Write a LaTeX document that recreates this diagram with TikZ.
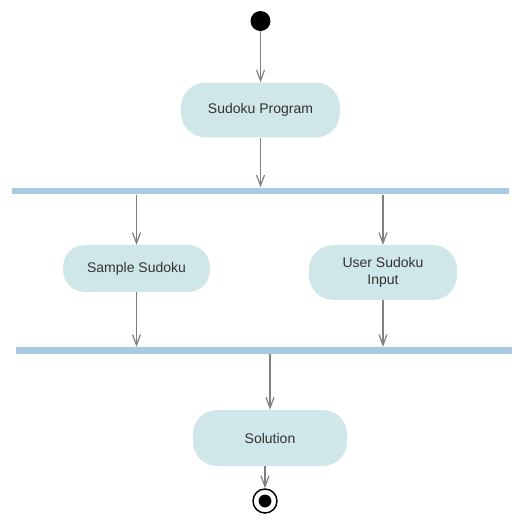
\documentclass[tikz,border=0pt]{standalone}
\usepackage{fontspec}
\setmainfont{Liberation Sans}
\usetikzlibrary{arrows.meta}
\definecolor{actfill}{RGB}{208,231,234}
\definecolor{barblue}{RGB}{169,202,227}
\definecolor{flowgray}{RGB}{128,128,128}
\definecolor{txtgray}{RGB}{51,51,51}
\tikzset{
  action/.style={rectangle, rounded corners=18pt, fill=actfill, text=txtgray, align=center, inner sep=0pt,
    font=\fontsize{10.5}{12.5}\selectfont},
  syncbar/.style={rectangle, fill=barblue, inner sep=0pt, minimum height=5pt},
  flow/.style={draw=flowgray, line width=0.9pt, -{Straight Barb[length=8pt,width=6pt]}},
}
\begin{document}
\begin{tikzpicture}[x=0.75pt,y=0.75pt,yscale=-1,xscale=1]
\useasboundingbox (0,0) rectangle (525,526);

% Initial node
\node (start) [circle, fill=black, minimum size=15pt, inner sep=0pt] at (260.5,21) {};
% Actions
\node (prog) [action, minimum width=119pt, minimum height=41pt] at (260.5,110) {Sudoku Program};
\node (sample) [action, rounded corners=16pt, minimum width=110pt, minimum height=35pt] at (136.5,268.5) {Sample Sudoku};
\node (user) [action, minimum width=111pt, minimum height=41pt] at (383,272.5) {User Sudoku\\Input};
\node (sol) [action, minimum width=115.5pt, minimum height=42pt] at (270,438) {Solution};
% Fork and join bars
\node (fork) [syncbar, minimum width=372.75pt] at (260.5,191) {};
\node (join) [syncbar, minimum width=372pt] at (264,350.5) {};
% Final node
\node (stop) [circle, draw=black, line width=1.1pt, fill=white, minimum size=18pt, inner sep=0pt] at (265,501) {};
\fill (stop.center) circle [radius=4.8pt];

% Flows
\draw [flow] (start) -- (prog);
\draw [flow] (prog) -- (fork.north -| prog.south);
\draw [flow] (fork.south -| sample.north) -- (sample);
\draw [flow] (fork.south -| user.north) -- (user);
\draw [flow] (sample) -- (join.north -| sample.south);
\draw [flow] (user) -- (join.north -| user.south);
\draw [flow] (join.south -| sol.north) -- (sol);
\draw [flow] (sol.south -| stop.north) -- (stop);

\end{tikzpicture}
\end{document}
